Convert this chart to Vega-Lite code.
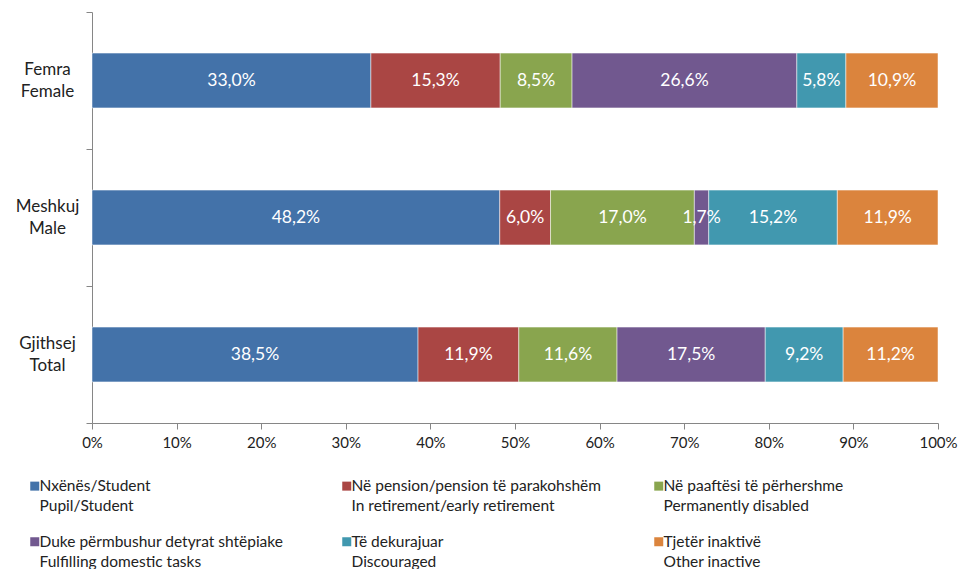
{
  "$schema": "https://vega.github.io/schema/vega-lite/v6.json",
  "width": 846,
  "height": 411,
  "autosize": "none",
  "padding": {"left": 92, "top": 12, "right": 21, "bottom": 146},
  "background": "white",
  "config": {
    "font": "Lato",
    "view": {"stroke": null},
    "axis": {"labelFont": "Lato", "labelColor": "#222222", "domainColor": "#868686", "tickColor": "#868686", "grid": false},
    "style": {"guide-label": {"lineHeight": 20}}
  },
  "data": {
    "values": [
      {"cat": "Femra|Female", "type": "Nxënës/Student|Pupil/Student", "o": 1, "v": 33.0},
      {"cat": "Femra|Female", "type": "Në pension/pension të parakohshëm|In retirement/early retirement", "o": 2, "v": 15.3},
      {"cat": "Femra|Female", "type": "Në paaftësi të përhershme|Permanently disabled", "o": 3, "v": 8.5},
      {"cat": "Femra|Female", "type": "Duke përmbushur detyrat shtëpiake|Fulfilling domestic tasks", "o": 4, "v": 26.6},
      {"cat": "Femra|Female", "type": "Të dekurajuar|Discouraged", "o": 5, "v": 5.8},
      {"cat": "Femra|Female", "type": "Tjetër inaktivë|Other inactive", "o": 6, "v": 10.9},
      {"cat": "Meshkuj|Male", "type": "Nxënës/Student|Pupil/Student", "o": 1, "v": 48.2},
      {"cat": "Meshkuj|Male", "type": "Në pension/pension të parakohshëm|In retirement/early retirement", "o": 2, "v": 6.0},
      {"cat": "Meshkuj|Male", "type": "Në paaftësi të përhershme|Permanently disabled", "o": 3, "v": 17.0},
      {"cat": "Meshkuj|Male", "type": "Duke përmbushur detyrat shtëpiake|Fulfilling domestic tasks", "o": 4, "v": 1.7},
      {"cat": "Meshkuj|Male", "type": "Të dekurajuar|Discouraged", "o": 5, "v": 15.2},
      {"cat": "Meshkuj|Male", "type": "Tjetër inaktivë|Other inactive", "o": 6, "v": 11.9},
      {"cat": "Gjithsej|Total", "type": "Nxënës/Student|Pupil/Student", "o": 1, "v": 38.5},
      {"cat": "Gjithsej|Total", "type": "Në pension/pension të parakohshëm|In retirement/early retirement", "o": 2, "v": 11.9},
      {"cat": "Gjithsej|Total", "type": "Në paaftësi të përhershme|Permanently disabled", "o": 3, "v": 11.6},
      {"cat": "Gjithsej|Total", "type": "Duke përmbushur detyrat shtëpiake|Fulfilling domestic tasks", "o": 4, "v": 17.5},
      {"cat": "Gjithsej|Total", "type": "Të dekurajuar|Discouraged", "o": 5, "v": 9.2},
      {"cat": "Gjithsej|Total", "type": "Tjetër inaktivë|Other inactive", "o": 6, "v": 11.2}
    ]
  },
  "transform": [
    {"stack": "v", "groupby": ["cat"], "sort": [{"field": "o", "order": "ascending"}], "as": ["x0", "x1"], "offset": "normalize"},
    {"calculate": "(datum.x0 + datum.x1) / 2", "as": "mid"},
    {"calculate": "replace(format(datum.v, '.1f'), '.', ',') + '%'", "as": "lab"}
  ],
  "encoding": {
    "y": {
      "field": "cat", "type": "nominal", "sort": ["Femra|Female", "Meshkuj|Male", "Gjithsej|Total"],
      "scale": {"paddingInner": 0, "paddingOuter": 0},
      "axis": {"title": null, "ticks": true, "tickBand": "extent", "tickSize": 6, "labelAlign": "center", "labelPadding": 39, "labelFontSize": 17, "labelLineHeight": 22, "labelBaseline": "line-bottom", "labelExpr": "split(datum.label, '|')", "domain": true}
    }
  },
  "layer": [
    {
      "mark": {"type": "bar", "stroke": "white", "strokeWidth": 0.5, "height": {"band": 0.4}},
      "encoding": {
        "x": {"field": "x0", "type": "quantitative", "scale": {"domain": [0, 1], "nice": false},
              "axis": {"title": null, "format": "%", "values": [0,0.1,0.2,0.3,0.4,0.5,0.6,0.7,0.8,0.9,1], "labelOverlap": false, "labelFontSize": 15, "tickSize": 6, "labelPadding": 6, "labelFlush": false}},
        "x2": {"field": "x1"},
        "color": {
          "field": "type", "type": "nominal",
          "scale": {
            "domain": ["Nxënës/Student|Pupil/Student", "Në pension/pension të parakohshëm|In retirement/early retirement", "Në paaftësi të përhershme|Permanently disabled", "Duke përmbushur detyrat shtëpiake|Fulfilling domestic tasks", "Të dekurajuar|Discouraged", "Tjetër inaktivë|Other inactive"],
            "range": ["#4372A9", "#AA4644", "#89A54E", "#71588F", "#4198AF", "#DB843D"]
          },
          "legend": {
            "title": null, "orient": "none", "direction": "horizontal", "legendX": -65, "legendY": 466, "columns": 3, "gridAlign": "all", "padding": 0,
            "symbolType": "square", "symbolSize": 81, "symbolStrokeWidth": 0, "labelFontSize": 15.5, "labelFont": "Lato",
            "labelExpr": "split(datum.label, '|')", "labelBaseline": "middle", "labelOffset": -3,
            "columnPadding": 49, "rowPadding": 19, "labelLimit": 400, "labelColor": "#222222"
          }
        }
      }
    },
    {
      "mark": {"type": "text", "color": "white", "fontSize": 17.5, "baseline": "middle", "align": "center"},
      "encoding": {
        "x": {"field": "mid", "type": "quantitative"},
        "text": {"field": "lab"}
      }
    }
  ]
}
